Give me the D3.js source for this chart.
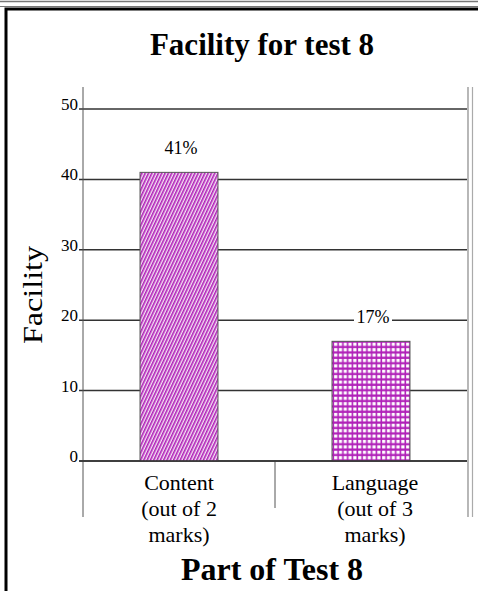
<!DOCTYPE html>
<html>
<head>
<meta charset="utf-8">
<script src="https://cdn.jsdelivr.net/npm/d3@7"></script>
<style>
  html, body { margin: 0; padding: 0; background: #fff; }
  svg { display: block; }
  text { font-family: "Liberation Serif", "Times New Roman", serif; fill: #000; }
</style>
</head>
<body>
<script>
// Chart data
const categories = ["Content", "Language"];
const categoryLines = [["Content", "(out of 2", "marks)"], ["Language", "(out of 3", "marks)"]];
const values = [41, 17];
const valueLabels = ["41%", "17%"];
const yTicks = [0, 10, 20, 30, 40, 50];
const chartTitle = "Facility for test 8";
const xTitle = "Part of Test 8";
const yTitle = "Facility";

const W = 478, H = 591;
const svg = d3.select("body").append("svg").attr("width", W).attr("height", H);

// Fill patterns
const defs = svg.append("defs");
const hatch = defs.append("pattern").attr("id", "hatch")
  .attr("patternUnits", "userSpaceOnUse").attr("width", 3).attr("height", 3)
  .attr("patternTransform", "rotate(25)");
hatch.append("rect").attr("width", 3).attr("height", 3).attr("fill", "#f4e4f4");
hatch.append("rect").attr("width", 1.6).attr("height", 3).attr("fill", "#b020b8");

const brick = defs.append("pattern").attr("id", "brick")
  .attr("patternUnits", "userSpaceOnUse").attr("width", 4.8).attr("height", 5.4)
  .attr("x", 333).attr("y", 341);
brick.append("rect").attr("width", 4.8).attr("height", 5.4).attr("fill", "#b020b8");
brick.append("rect").attr("x", 1.1).attr("y", 1.7).attr("width", 3.2).attr("height", 3.2).attr("fill", "#fff");
const fills = ["url(#hatch)", "url(#brick)"];

// Page frame
svg.append("line").attr("x1", 0).attr("x2", W).attr("y1", 1.5).attr("y2", 1.5)
  .attr("stroke", "#777").attr("stroke-width", 1.5);
svg.append("line").attr("x1", 0).attr("x2", W).attr("y1", 6.5).attr("y2", 6.5)
  .attr("stroke", "#777").attr("stroke-width", 1.2);
svg.append("path").attr("d", `M6,${H} V9 H${W}`)
  .attr("fill", "none").attr("stroke", "#000").attr("stroke-width", 3);

// Plot geometry
const plot = { left: 83, right: 467, top: 87, bottom: 517 };
const y = d3.scaleLinear().domain([0, 50]).range([461, 109]);
const x = d3.scaleBand().domain(categories).range([plot.left, plot.right]).padding(0);
const barRatio = 0.406;

// Title
svg.append("text").attr("x", 262).attr("y", 55).attr("text-anchor", "middle")
  .attr("font-size", 31).attr("font-weight", "bold").text(chartTitle);

// Gridlines with tick labels
const grid = svg.append("g");
grid.selectAll("line").data(yTicks).join("line")
  .attr("x1", 79).attr("x2", plot.right)
  .attr("y1", d => y(d)).attr("y2", d => y(d))
  .attr("stroke", "#333").attr("stroke-width", 1.5);
grid.selectAll("text").data(yTicks).join("text")
  .attr("x", 78).attr("y", d => y(d) + 1).attr("text-anchor", "end")
  .attr("font-size", 17).text(d => d);

// Axis frame lines
svg.append("line").attr("x1", plot.left).attr("x2", plot.left)
  .attr("y1", plot.top).attr("y2", plot.bottom).attr("stroke", "#555").attr("stroke-width", 1);
svg.append("line").attr("x1", 468).attr("x2", 468)
  .attr("y1", plot.top).attr("y2", plot.bottom).attr("stroke", "#888").attr("stroke-width", 1.2);
svg.append("line").attr("x1", 472.5).attr("x2", 472.5)
  .attr("y1", plot.top).attr("y2", plot.bottom).attr("stroke", "#aaa").attr("stroke-width", 1.2);
// Category divider
svg.append("line").attr("x1", x(categories[1])).attr("x2", x(categories[1]))
  .attr("y1", y(0)).attr("y2", 508).attr("stroke", "#555").attr("stroke-width", 1);

// Bars
const bw = x.bandwidth() * barRatio;
svg.append("g").selectAll("rect").data(values).join("rect")
  .attr("x", (d, i) => x(categories[i]) + (x.bandwidth() - bw) / 2)
  .attr("width", bw)
  .attr("y", d => y(d)).attr("height", d => y(0) - y(d))
  .attr("fill", (d, i) => fills[i])
  .attr("stroke", "#555").attr("stroke-width", 1);

// Baseline redrawn over the bar bottoms
svg.append("line").attr("x1", 79).attr("x2", plot.right)
  .attr("y1", y(0)).attr("y2", y(0)).attr("stroke", "#333").attr("stroke-width", 1.5);

// Value labels with white backing
const vl = svg.append("g").selectAll("g").data(values).join("g")
  .attr("transform", (d, i) => `translate(${x(categories[i]) + x.bandwidth() / 2 + 2},${y(d) - 18})`);
vl.append("rect").attr("x", -19).attr("y", -14).attr("width", 38).attr("height", 17).attr("fill", "#fff");
vl.append("text").attr("text-anchor", "middle").attr("font-size", 18).text((d, i) => valueLabels[i]);

// Category labels
const cl = svg.append("g").selectAll("text").data(categories).join("text")
  .attr("text-anchor", "middle").attr("font-size", 22)
  .attr("transform", d => `translate(${x(d) + x.bandwidth() / 2 + (d === "Language" ? 4 : 0)},490)`);
cl.selectAll("tspan").data((d, i) => categoryLines[i]).join("tspan")
  .attr("x", 0).attr("y", (d, j) => j * 26).text(d => d);

// Axis titles
svg.append("text").attr("transform", "translate(42,295) rotate(-90)")
  .attr("text-anchor", "middle").attr("font-size", 27)
  .attr("textLength", 98).attr("lengthAdjust", "spacingAndGlyphs").text(yTitle);
svg.append("text").attr("x", 272).attr("y", 580).attr("text-anchor", "middle")
  .attr("font-size", 32).attr("font-weight", "bold").text(xTitle);
</script>
</body>
</html>
